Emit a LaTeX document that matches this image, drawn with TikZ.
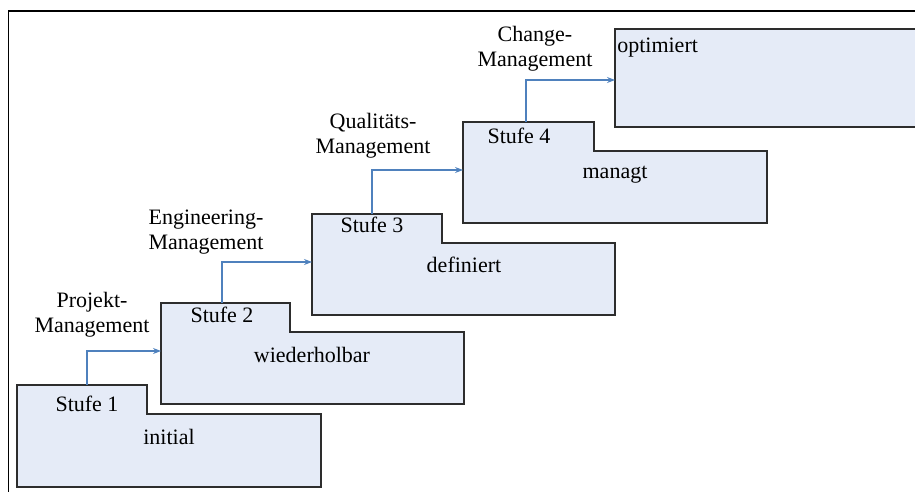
\documentclass[tikz,border=0pt]{standalone}
\usepackage{fontspec}
\setmainfont{Liberation Serif}
\usetikzlibrary{arrows.meta}

\definecolor{boxfill}{RGB}{229,235,247}
\definecolor{boxline}{RGB}{45,45,45}
\definecolor{flowblue}{RGB}{79,129,189}

\tikzset{
  stagebox/.style={draw=boxline, fill=boxfill, line width=0.9pt, line join=miter},
  flow/.style={draw=flowblue, line width=0.8pt, -{Stealth[length=6pt,width=4.5pt]}},
  txt/.style={font=\fontsize{16.5}{18.5}\selectfont, inner sep=0pt, anchor=base},
  lbl/.style={font=\fontsize{16.5}{18.5}\selectfont, inner sep=0pt, align=center, anchor=north},
}

% outline of one stage: tab on the upper left, wider body below
% #1 left, #2 top, #3 right edge of the tab, #4 step height, #5 right, #6 bottom
\newcommand\stageoutline[6]{%
  \draw[stagebox] (#1,#2) -- (#3,#2) -- (#3,#4) -- (#5,#4) -- (#5,#6) -- (#1,#6) -- cycle;}

\begin{document}
\begin{tikzpicture}[x=0.75pt,y=-0.75pt]
\useasboundingbox (0,0) rectangle (915,492);

% frame
\draw[line width=1.2pt] (8.5,492) -- (8.5,11) -- (915,11);

% stages
\stageoutline{17}{385}{147}{414}{321}{487}
\stageoutline{161}{303}{290}{332}{464}{404}
\stageoutline{312}{214}{442}{243}{615}{315}
\stageoutline{463}{122}{594}{151}{767}{223}
\draw[stagebox] (615,29) rectangle (925,127);

% stage texts
\node[txt] (st1) at (87,411) {Stufe 1};
\node[txt] (m1)  at (169,444) {initial};
\node[txt] (st2) at (222,322) {Stufe 2};
\node[txt] (m2)  at (312,362) {wiederholbar};
\node[txt] (st3) at (372,233) {Stufe 3};
\node[txt] (m3)  at (464,272) {definiert};
\node[txt] (st4) at (519,143) {Stufe 4};
\node[txt] (m4)  at (615,179) {managt};
\node[txt, anchor=base west] (m5) at (617,53) {optimiert};

% management labels
\node[lbl] (l1) at (92,292)  {Projekt-\\Management};
\node[lbl] (l2) at (206,210) {Engineering-\\Management};
\node[lbl] (l3) at (373,113) {Qualitäts-\\Management};
\node[lbl] (l4) at (535,26)  {Change-\\Management};

% connector ends
\coordinate (o1) at (87,385);
\coordinate (i2) at (161,351);
\coordinate (o2) at (222,303);
\coordinate (i3) at (312,262);
\coordinate (o3) at (372,214);
\coordinate (i4) at (463,170);
\coordinate (o4) at (526,122);
\coordinate (i5) at (615,80);

% connectors
\draw[flow] (o1) |- (i2);
\draw[flow] (o2) |- (i3);
\draw[flow] (o3) |- (i4);
\draw[flow] (o4) |- (i5);
\end{tikzpicture}
\end{document}
